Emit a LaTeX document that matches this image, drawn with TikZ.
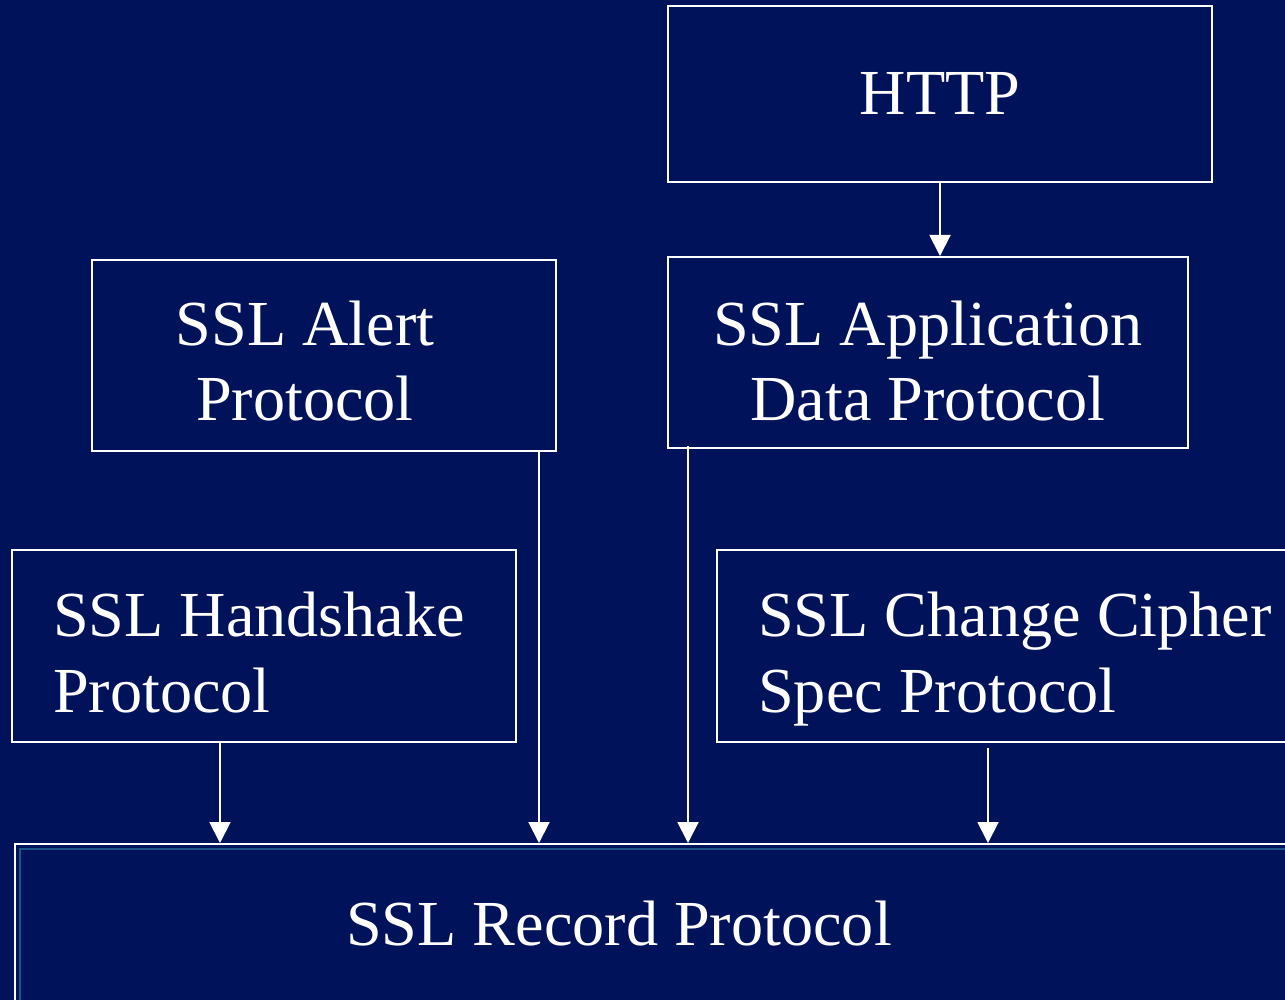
\documentclass[tikz,border=0pt]{standalone}
\usepackage{fontspec}
\setmainfont{Liberation Serif}
\usetikzlibrary{arrows.meta}
\definecolor{bgblue}{RGB}{0,19,90}
\definecolor{innerteal}{RGB}{25,85,135}
\tikzset{
  layerbox/.style={draw=white, line width=2pt, inner sep=0pt},
  lbl/.style={text=white, inner sep=0pt, font=\fontsize{64.2}{75}\selectfont},
  flow/.style={draw=white, line width=2pt, -{Triangle[length=21pt,width=21pt]}}
}
\begin{document}
\begin{tikzpicture}[x=1pt,y=-1pt]
  % page and background
  \useasboundingbox (0,0) rectangle (1285,1000);
  \clip (0,0) rectangle (1285,1000);
  \fill[bgblue] (0,0) rectangle (1285,1000);

  % protocol boxes
  \node[layerbox, minimum width=544pt, minimum height=176pt] (http) at (940,94) {};
  \node[layerbox, minimum width=464pt, minimum height=191pt] (alert) at (324,355.5) {};
  \node[layerbox, minimum width=520pt, minimum height=191pt] (app) at (928,352.5) {};
  \node[layerbox, minimum width=504pt, minimum height=192pt] (hand) at (264,646) {};
  \node[layerbox, minimum width=580pt, minimum height=192pt, anchor=west] (ccs) at (716,646) {};
  \node[layerbox, minimum width=1300pt, minimum height=200pt, anchor=north west] (record) at (14,843) {};
  \draw[innerteal, line width=2pt] ([shift={(6,6)}]record.north west) rectangle (record.south east);

  % labels
  \node[lbl, anchor=base] (thttp) at (940,115) {HTTP};
  \node[lbl, anchor=base] (talert1) at (305,345) {SSL Alert};
  \node[lbl, anchor=base] (talert2) at (305,420) {Protocol};
  \node[lbl, anchor=base] (tapp1) at (928,345) {SSL Application};
  \node[lbl, anchor=base] (tapp2) at (928,420) {Data Protocol};
  \node[lbl, anchor=base west] (thand1) at (53,636) {SSL Handshake};
  \node[lbl, anchor=base west] (thand2) at (53,712) {Protocol};
  \node[lbl, anchor=base west] (tccs1) at (758,636) {SSL Change Cipher};
  \node[lbl, anchor=base west] (tccs2) at (758,712) {Spec Protocol};
  \node[lbl, anchor=base] (trecord) at (619,945) {SSL Record Protocol};

  % connectors
  \draw[flow] (http.south) -- (http.south |- app.north);
  \draw[flow] ([xshift=-44pt]hand.south) -- ([xshift=-44pt]hand.south |- record.north);
  \draw[flow] ([xshift=-18pt]alert.south east) -- ([xshift=-18pt]alert.south east |- record.north);
  \draw[flow] ([shift={(21,-3)}]app.south west) -- ([xshift=21pt]app.south west |- record.north);
  \draw[flow] ([shift={(272,5)}]ccs.south west) -- ([xshift=272pt]ccs.south west |- record.north);
\end{tikzpicture}
\end{document}
